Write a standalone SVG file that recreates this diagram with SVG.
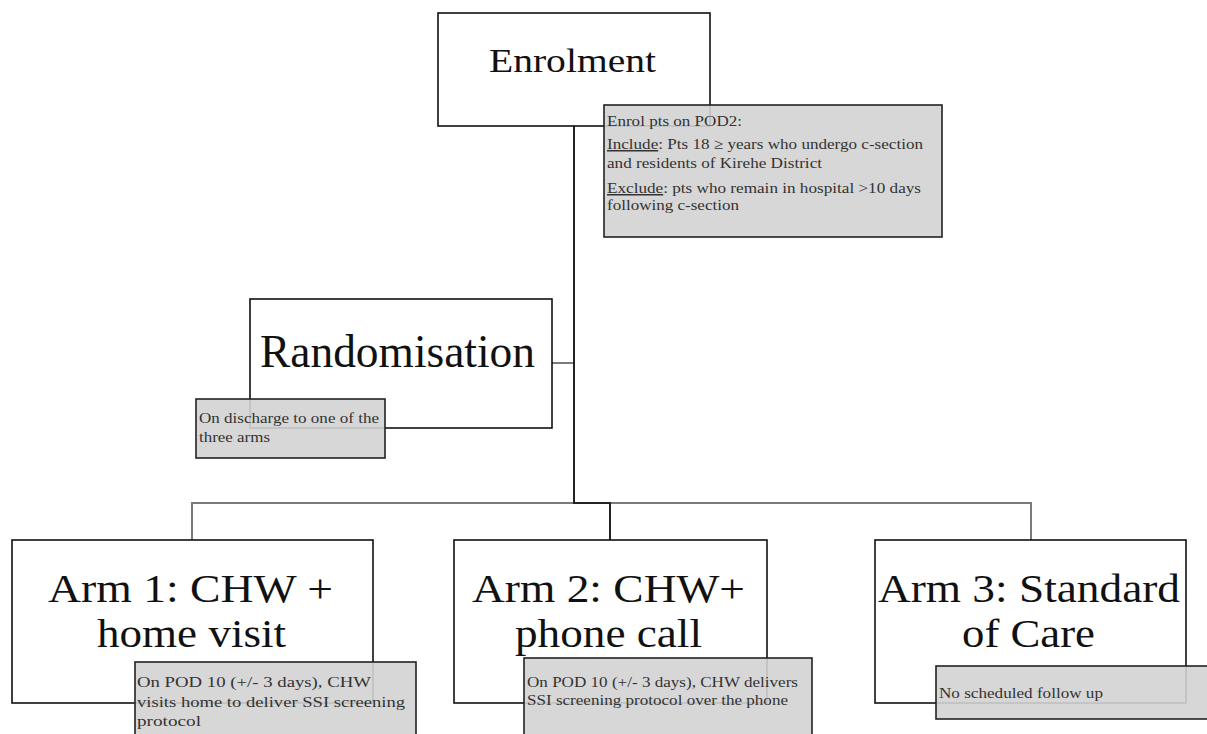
<svg xmlns="http://www.w3.org/2000/svg" width="1207" height="734" viewBox="0 0 1207 734">
<style>
.box{fill:#ffffff;stroke:#111;stroke-width:1.6}
.note{fill:#d3d3d3;fill-opacity:0.9;stroke:#222;stroke-width:1.6}
text{font-family:'Liberation Serif','Times New Roman',Times,serif}
.title{fill:#111}
.small{fill:#333;font-size:15px}
.dark{fill:none;stroke:#222;stroke-width:2}
.grey{fill:none;stroke:#7a7a7a;stroke-width:2}
</style>
<rect x="0" y="0" width="1207" height="734" fill="#ffffff"/>
<g id="connectors">
  <path class="grey" d="M552,363 H574"/>
  <path class="grey" d="M192,540 V503 H1031 V540"/>
  <path class="dark" d="M574,126 V503 H610 V540"/>
</g>
<g id="enrolment">
  <rect class="box" x="438" y="13" width="272" height="113"/>
  <text class="title" font-family="Liberation Serif" x="489" y="72" font-size="34" textLength="167" lengthAdjust="spacingAndGlyphs">Enrolment</text>
</g>
<g id="enrolment-note">
  <rect class="note" x="604" y="105" width="338" height="132"/>
  <text class="small" font-family="Liberation Serif" x="607" y="126" textLength="135" lengthAdjust="spacingAndGlyphs">Enrol pts on POD2:</text>
  <text class="small" font-family="Liberation Serif" x="607" y="149" textLength="316" lengthAdjust="spacingAndGlyphs"><tspan text-decoration="underline">Include</tspan>: Pts 18 ≥ years who undergo c-section</text>
  <text class="small" font-family="Liberation Serif" x="607" y="168" textLength="215" lengthAdjust="spacingAndGlyphs">and residents of Kirehe District</text>
  <text class="small" font-family="Liberation Serif" x="607" y="193" textLength="314" lengthAdjust="spacingAndGlyphs"><tspan text-decoration="underline">Exclude</tspan>: pts who remain in hospital &gt;10 days</text>
  <text class="small" font-family="Liberation Serif" x="607" y="210" textLength="132" lengthAdjust="spacingAndGlyphs">following c-section</text>
</g>
<g id="randomisation">
  <rect class="box" x="250" y="299" width="302" height="129"/>
  <text class="title" font-family="Liberation Serif" x="260" y="367" font-size="46" textLength="275" lengthAdjust="spacingAndGlyphs">Randomisation</text>
</g>
<g id="randomisation-note">
  <rect class="note" x="196" y="399" width="189" height="59"/>
  <text class="small" font-family="Liberation Serif" x="199" y="423" textLength="180" lengthAdjust="spacingAndGlyphs">On discharge to one of the</text>
  <text class="small" font-family="Liberation Serif" x="199" y="442" textLength="71" lengthAdjust="spacingAndGlyphs">three arms</text>
</g>
<g id="arm1">
  <rect class="box" x="12" y="540" width="361" height="163"/>
  <text class="title" font-family="Liberation Serif" x="48" y="602" font-size="41" textLength="285" lengthAdjust="spacingAndGlyphs">Arm 1: CHW +</text>
  <text class="title" font-family="Liberation Serif" x="97" y="647" font-size="41" textLength="189" lengthAdjust="spacingAndGlyphs">home visit</text>
</g>
<g id="arm1-note">
  <rect class="note" x="135" y="662" width="281" height="80"/>
  <text class="small" font-family="Liberation Serif" x="137" y="687" textLength="234" lengthAdjust="spacingAndGlyphs">On POD 10 (+/- 3 days), CHW</text>
  <text class="small" font-family="Liberation Serif" x="137" y="707" textLength="268" lengthAdjust="spacingAndGlyphs">visits home to deliver SSI screening</text>
  <text class="small" font-family="Liberation Serif" x="137" y="726" textLength="64" lengthAdjust="spacingAndGlyphs">protocol</text>
</g>
<g id="arm2">
  <rect class="box" x="454" y="540" width="313" height="163"/>
  <text class="title" font-family="Liberation Serif" x="472" y="602" font-size="41" textLength="273" lengthAdjust="spacingAndGlyphs">Arm 2: CHW+</text>
  <text class="title" font-family="Liberation Serif" x="515" y="647" font-size="41" textLength="187" lengthAdjust="spacingAndGlyphs">phone call</text>
</g>
<g id="arm2-note">
  <rect class="note" x="524" y="658" width="288" height="84"/>
  <text class="small" font-family="Liberation Serif" x="527" y="687" textLength="271" lengthAdjust="spacingAndGlyphs">On POD 10 (+/- 3 days), CHW delivers</text>
  <text class="small" font-family="Liberation Serif" x="527" y="705" textLength="261" lengthAdjust="spacingAndGlyphs">SSI screening protocol over the phone</text>
</g>
<g id="arm3">
  <rect class="box" x="875" y="540" width="311" height="163"/>
  <text class="title" font-family="Liberation Serif" x="878" y="602" font-size="41" textLength="302" lengthAdjust="spacingAndGlyphs">Arm 3: Standard</text>
  <text class="title" font-family="Liberation Serif" x="962" y="647" font-size="41" textLength="133" lengthAdjust="spacingAndGlyphs">of Care</text>
</g>
<g id="arm3-note">
  <rect class="note" x="936" y="666" width="280" height="53"/>
  <text class="small" font-family="Liberation Serif" x="939" y="698" textLength="164" lengthAdjust="spacingAndGlyphs">No scheduled follow up</text>
</g>
</svg>
